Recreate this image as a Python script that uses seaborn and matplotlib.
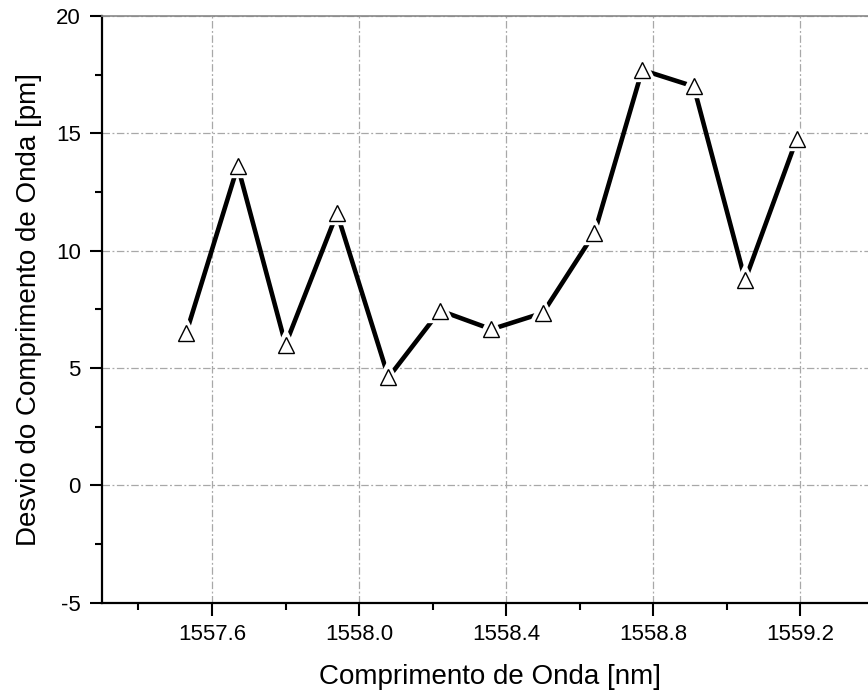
import matplotlib
matplotlib.use("Agg")
import matplotlib.pyplot as plt
from matplotlib.ticker import MultipleLocator
import seaborn as sns
import pandas as pd

# Wavelength deviation per channel
wavelength_nm = [1557.53, 1557.67, 1557.80, 1557.94, 1558.08, 1558.22, 1558.36,
                 1558.50, 1558.64, 1558.77, 1558.91, 1559.05, 1559.19]
deviation_pm = [6.5, 13.6, 6.0, 11.6, 4.6, 7.45, 6.65,
                7.35, 10.75, 17.7, 17.0, 8.75, 14.75]

df = pd.DataFrame({"wavelength": wavelength_nm, "deviation": deviation_pm})

sns.set_theme(style="white")
plt.rcParams["font.family"] = ["Liberation Sans", "DejaVu Sans"]

W, H = 868, 695
fig = plt.figure(figsize=(W / 100, H / 100), dpi=100)
x0, x1 = 1557.3, 1559.4
left_px, bottom_px, top_px = 101.7, 602.7, 16.0
px_per_nm = (800.0 - 211.7) / 1.6
right_px = left_px + (x1 - x0) * px_per_nm
ax = fig.add_axes([left_px / W, 1 - bottom_px / H,
                   (right_px - left_px) / W, (bottom_px - top_px) / H])

# connecting line
sns.lineplot(data=df, x="wavelength", y="deviation", ax=ax, color="black",
             linewidth=3.3, zorder=3, sort=False)
# white halo keeps a small gap between the line and each symbol
ax.plot(df["wavelength"], df["deviation"], linestyle="none", marker="^",
        markersize=11, markerfacecolor="white", markeredgecolor="white",
        markeredgewidth=6, zorder=4)
ax.plot(df["wavelength"], df["deviation"], linestyle="none", marker="^",
        markersize=11, markerfacecolor="white", markeredgecolor="black",
        markeredgewidth=1.0, zorder=5)

ax.set_xlim(x0, x1)
ax.set_ylim(-5, 20)
ax.xaxis.set_major_locator(MultipleLocator(0.4))
ax.xaxis.set_minor_locator(MultipleLocator(0.2))
ax.yaxis.set_major_locator(MultipleLocator(5))
ax.yaxis.set_minor_locator(MultipleLocator(2.5))
ax.xaxis.set_major_formatter(matplotlib.ticker.FormatStrFormatter("%.1f"))
ax.yaxis.set_major_formatter(matplotlib.ticker.FormatStrFormatter("%d"))

ax.grid(True, which="major", color="#a8a8a8", linestyle=(0, (6, 2, 1.5, 2)),
        linewidth=0.9)
ax.set_axisbelow(True)

for side in ("left", "bottom"):
    ax.spines[side].set_color("black")
    ax.spines[side].set_linewidth(1.6)
ax.spines["top"].set_color("#888888")
ax.spines["top"].set_linewidth(1.2)
ax.spines["right"].set_visible(False)

ax.tick_params(which="major", direction="out", length=9, width=1.5,
               color="black", labelsize=16, labelcolor="black", pad=6,
               bottom=True, left=True)
ax.tick_params(which="minor", direction="out", length=5, width=1.5,
               color="black", bottom=True, left=True)

ax.set_xlabel("Comprimento de Onda [nm]", fontsize=20, color="black", labelpad=12)
ax.set_ylabel("Desvio do Comprimento de Onda [pm]", fontsize=20, color="black",
              labelpad=10)
ax.xaxis.set_label_coords((490 - left_px) / (right_px - left_px), -0.105)

fig.savefig("out.png", dpi=100)
